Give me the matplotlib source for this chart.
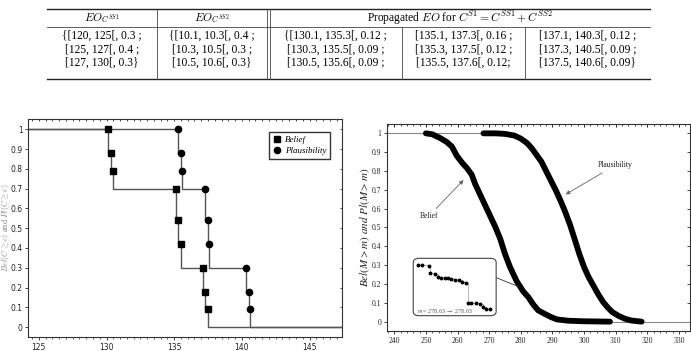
import matplotlib
matplotlib.use("Agg")
import matplotlib.pyplot as plt
from matplotlib.ticker import MultipleLocator
from matplotlib.patches import FancyBboxPatch

# table content
table_header = [r"$EO_{C^{SS1}}$", r"$EO_{C^{SS2}}$",
                r"Propagated $EO$ for $C^{S1} = C^{SS1} + C^{SS2}$"]
table_rows = [
    ["{[120, 125[, 0.3 ;", "{[10.1, 10.3[, 0.4 ;", "{[130.1, 135.3[, 0.12 ;",
     "[135.1, 137.3[, 0.16 ;", "[137.1, 140.3[, 0.12 ;"],
    ["[125, 127[, 0.4 ;", "[10.3, 10.5[, 0.3 ;", "[130.3, 135.5[, 0.09 ;",
     "[135.3, 137.5[, 0.12 ;", "[137.3, 140.5[, 0.09 ;"],
    ["[127, 130[, 0.3}", "[10.5, 10.6[, 0.3}", "[130.5, 135.6[, 0.09 ;",
     "[135.5, 137.6[, 0.12;", "[137.5, 140.6[, 0.09}"],
]

# left plot: belief / plausibility of C
bel_c = [130.1, 130.3, 130.5, 135.1, 135.3, 135.5, 137.1, 137.3, 137.5]
pl_c = [135.3, 135.5, 135.6, 137.3, 137.5, 137.6, 140.3, 140.5, 140.6]
bp_val = [1.0, 0.88, 0.79, 0.70, 0.54, 0.42, 0.30, 0.18, 0.09]

# right plot: belief / plausibility of M
bel_m = [250, 252, 254.5, 256.5, 258.2, 259.8, 261.4, 263, 264.5, 265.6, 267.7, 269.8,
         271.9, 273.5, 275, 276.6, 278.7, 280.8, 282.4, 284, 285.5, 287.5, 289.5,
         291.4, 295, 300, 308.2]
bel_y = [1.0, 0.995, 0.975, 0.955, 0.93, 0.88, 0.845, 0.815, 0.78, 0.73, 0.655, 0.58,
         0.505, 0.44, 0.36, 0.29, 0.215, 0.16, 0.13, 0.09, 0.06, 0.042, 0.025,
         0.012, 0.005, 0.002, 0.0]
pl_m = [268.2, 272, 275, 278, 280, 282, 283.5, 285, 286.5, 288, 289.5, 291, 292.5, 294,
        295.6, 297, 298.5, 300, 301.5, 303, 304.5, 306, 307.5, 309, 311, 313, 315, 318.2]
pl_y = [1.0, 1.0, 0.997, 0.988, 0.972, 0.948, 0.92, 0.885, 0.85, 0.80, 0.75, 0.70, 0.645,
        0.585, 0.513, 0.44, 0.36, 0.29, 0.235, 0.19, 0.145, 0.105, 0.075, 0.05, 0.03,
        0.015, 0.006, 0.0]

# zoomed detail in the inset
zoom_m = [278.6300, 278.6312, 278.6331, 278.6334, 278.6347, 278.6356, 278.6365, 278.6374,
          278.6384, 278.6393, 278.6402, 278.6414, 278.6424, 278.6435, 278.6440, 278.6449,
          278.6461, 278.6472, 278.6481, 278.6491, 278.6500]
zoom_bel = [0.2150, 0.2150, 0.2148, 0.2125, 0.2123, 0.2113, 0.2112, 0.2111, 0.2111, 0.2107,
            0.2105, 0.2105, 0.2099, 0.2097, 0.2035, 0.2035, 0.2035, 0.2033, 0.2025, 0.2017,
            0.2017]

W, H = 691, 351
fig = plt.figure(figsize=(W / 100, H / 100), dpi=100)

# ---- table (drawn in pixel coordinates) ----
tax = fig.add_axes([0, 0, 1, 1])
tax.set_xlim(0, W)
tax.set_ylim(H, 0)
tax.axis("off")
x_left, x_right = 47, 650
y_top, y_head, y_bot = 9.3, 26.7, 79
tax.plot([x_left, x_right], [y_top, y_top], color="#222", lw=1.0)
tax.plot([x_left, x_right], [y_head, y_head], color="#444", lw=0.6)
tax.plot([x_left, x_right], [y_bot, y_bot], color="#222", lw=1.0)
for xs in [156.7, 266.7, 269.7]:
    tax.plot([xs, xs], [y_top, y_bot], color="#444", lw=0.6)
for xs in [401.7, 525]:
    tax.plot([xs, xs], [y_head, y_bot], color="#444", lw=0.6)
col_x = [101.8, 211.7, 335.7, 463.3, 587.5]
head_x = [101.8, 211.7, 460]
for hx, txt in zip(head_x, table_header):
    tax.text(hx, 18, txt, ha="center", va="center", fontsize=8.3,
             family="Liberation Serif", math_fontfamily="cm")
for ry, row in zip([36, 49.5, 63], table_rows):
    for cx, txt in zip(col_x, row):
        tax.text(cx, ry, txt, ha="center", va="center", fontsize=8.3,
                 family="Liberation Serif")

# ---- left plot ----
ax1 = fig.add_axes([28 / W, 1 - 337 / H, 314 / W, 218 / H])
xl1 = (124.2, 147.4)
ax1.plot([xl1[0]] + bel_c + [xl1[1]], [1.0] + bp_val + [0.0],
         drawstyle="steps-pre", color="#555555", lw=1.0, zorder=2)
ax1.plot([xl1[0]] + pl_c + [xl1[1]], [1.0] + bp_val + [0.0],
         drawstyle="steps-pre", color="#555555", lw=1.0, zorder=2)
ax1.plot(bel_c, bp_val, "s", color="black", ms=4.5, label="Belief", zorder=3)
ax1.plot(pl_c, bp_val, "o", color="black", ms=4.5, label="Plausibility", zorder=3)
ax1.set_xlim(*xl1)
ax1.set_ylim(-0.05, 1.052)
ax1.xaxis.set_major_locator(MultipleLocator(5))
ax1.xaxis.set_minor_locator(MultipleLocator(0.5))
ax1.set_yticks([i / 10 for i in range(11)])
ax1.set_yticklabels(["0", "0.1", "0.2", "0.3", "0.4", "0.5", "0.6", "0.7", "0.8", "0.9", "1"])
ax1.tick_params(which="both", direction="out", labelsize=5.5, pad=2, colors="#222")
ax1.tick_params(axis="y", pad=1.2)
ax1.tick_params(which="major", length=2.5, width=0.6)
ax1.tick_params(which="minor", length=1.2, width=0.5)
for sp in ax1.spines.values():
    sp.set_linewidth(0.8)
    sp.set_color("#333")
ax1.set_ylabel(r"$Bel(C \geq c)$ and $Pl(C \geq c)$", fontsize=6.0, color="#888888",
               family="Liberation Serif", math_fontfamily="cm")
ax1.yaxis.set_label_coords(-16 / 314, 0.5)
ax1.set_xlabel(r"$c$", fontsize=7, math_fontfamily="cm", labelpad=4)
top1 = ax1.secondary_xaxis("top")
top1.xaxis.set_major_locator(MultipleLocator(5))
top1.xaxis.set_minor_locator(MultipleLocator(0.5))
top1.tick_params(which="both", direction="in", labeltop=False, length=1.5, width=0.5)
right1 = ax1.secondary_yaxis("right")
right1.yaxis.set_major_locator(MultipleLocator(0.1))
right1.tick_params(which="both", direction="in", labelright=False, length=1.5, width=0.5)
for sec in (top1, right1):
    for sp in sec.spines.values():
        sp.set_visible(False)
ax1.legend(loc="upper right", bbox_to_anchor=(0.962, 0.94), borderaxespad=0,
           fancybox=False, edgecolor="#333", framealpha=1, handletextpad=0.4,
           handlelength=1.0, borderpad=0.4, labelspacing=0.3,
           prop={"family": "Liberation Serif", "style": "italic", "size": 6.5})

# ---- right plot ----
ax2 = fig.add_axes([387.3 / W, 1 - 330.7 / H, 302.7 / W, 206.4 / H])
xl2 = (237.8, 333.5)
ax2.plot([xl2[0], pl_m[0]], [1, 1], color="#888888", lw=0.8, zorder=1)
ax2.plot([bel_m[-1], xl2[1]], [0, 0], color="#888888", lw=0.8, zorder=1)
ax2.plot(bel_m, bel_y, color="black", lw=4.2, solid_capstyle="round", zorder=3)
ax2.plot(pl_m, pl_y, color="black", lw=4.2, solid_capstyle="round", zorder=3)
ax2.set_xlim(*xl2)
ax2.set_ylim(-0.048, 1.048)
ax2.xaxis.set_major_locator(MultipleLocator(10))
ax2.xaxis.set_minor_locator(MultipleLocator(2))
ax2.set_yticks([i / 10 for i in range(11)])
ax2.set_yticklabels(["0", "0.1", "0.2", "0.3", "0.4", "0.5", "0.6", "0.7", "0.8", "0.9", "1"])
for lab in ax2.get_xticklabels() + ax2.get_yticklabels():
    lab.set_family("Liberation Serif")
ax2.tick_params(which="both", direction="out", labelsize=5.5, pad=2, colors="#222")
ax2.tick_params(which="major", length=2.5, width=0.6)
ax2.tick_params(which="minor", length=1.2, width=0.5)
for sp in ax2.spines.values():
    sp.set_linewidth(0.8)
    sp.set_color("#333")
ax2.set_ylabel(r"$Bel(M > m)\ and\ Pl(M > m)$", fontsize=8, math_fontfamily="stix",
               color="#222")
ax2.yaxis.set_label_coords(-15 / 302.7, 0.5)
ax2.set_xlabel(r"$m$", fontsize=7, math_fontfamily="stix", labelpad=4)
top2 = ax2.secondary_xaxis("top")
top2.xaxis.set_major_locator(MultipleLocator(10))
top2.xaxis.set_minor_locator(MultipleLocator(2))
top2.tick_params(which="major", direction="in", labeltop=False, length=2.5, width=0.6)
top2.tick_params(which="minor", direction="in", length=1.5, width=0.5)
right2 = ax2.secondary_yaxis("right")
right2.yaxis.set_major_locator(MultipleLocator(0.1))
right2.tick_params(which="both", direction="in", labelright=False, length=2, width=0.5)
for sec in (top2, right2):
    for sp in sec.spines.values():
        sp.set_visible(False)

arrow = dict(arrowstyle="-|>", color="#666666", lw=0.6, mutation_scale=6,
             shrinkA=1, shrinkB=0)
ax2.annotate("Plausibility", xy=(294.2, 0.676), xytext=(309.8, 0.83),
             ha="center", va="center", fontsize=5.5, family="Liberation Serif",
             color="#222", arrowprops=arrow)
ax2.annotate("Belief", xy=(261.9, 0.752), xytext=(250.9, 0.56),
             ha="center", va="center", fontsize=5.5, family="Liberation Serif",
             color="#222", arrowprops=arrow)

# inset box with zoomed staircase
box = FancyBboxPatch((0.0856, 0.0727), 0.274, 0.278, transform=ax2.transAxes,
                     boxstyle="round,pad=0,rounding_size=0.02", fc="white",
                     ec="#444444", lw=0.8, zorder=4)
ax2.add_patch(box)
ax2.annotate("", xy=(279.3, 0.186), xycoords="data", xytext=(0.36, 0.257),
             textcoords="axes fraction",
             arrowprops=dict(arrowstyle="-", color="#333333", lw=0.6, shrinkA=0, shrinkB=0))
ins = ax2.inset_axes([0.102, 0.104, 0.236, 0.214])
ins.set_zorder(5)
ins.patch.set_alpha(0)
ins.plot(zoom_m, zoom_bel, drawstyle="steps-post", color="#999999", lw=0.5)
ins.plot(zoom_m, zoom_bel, "o", color="black", ms=1.8)
ins.set_xlim(278.6300, 278.6500)
ins.set_ylim(0.2017, 0.2150)
ins.axis("off")
for a in ins.lines:
    a.set_clip_on(False)
ax2.text(0.097, 0.095, r"$m$ = 278.63 $\rightarrow$ 278.65", transform=ax2.transAxes,
         fontsize=4.3, family="Liberation Serif", math_fontfamily="stix",
         color="#555555", va="center", ha="left", zorder=6)

fig.savefig("out.png", dpi=100)
